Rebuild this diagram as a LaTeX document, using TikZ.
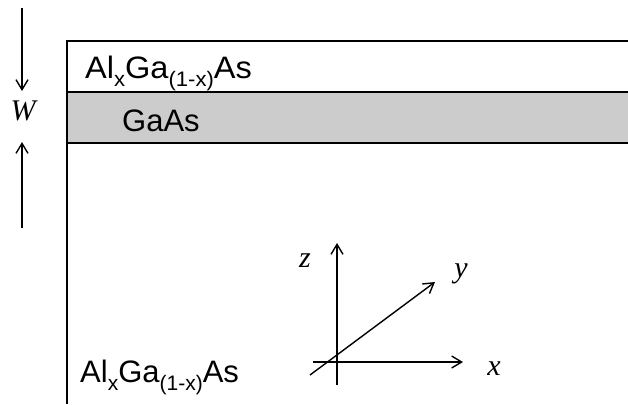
\documentclass[tikz,border=0pt]{standalone}
\usepackage{fontspec}
\setmainfont{Liberation Sans}
\newfontfamily\serifit{Liberation Serif}[ItalicFont=* Italic]
\usetikzlibrary{arrows.meta}
\definecolor{bandgray}{HTML}{CCCCCC}
\newcommand\lowsub[1]{\raisebox{-8pt}{\fontsize{21}{21}\selectfont #1}}
\tikzset{
  layer/.style={line width=1.5pt},
  axis/.style={line width=1.4pt,-{Straight Barb[length=10pt,width=12pt,line width=1.4pt]}},
  wlabel/.style={font=\fontsize{30}{32}\selectfont\serifit\itshape, anchor=base, inner sep=0pt},
  mat/.style={font=\fontsize{31}{33}\selectfont, anchor=base west, inner sep=0pt},
}
\begin{document}
\begin{tikzpicture}[x=1pt,y=-1pt]
\useasboundingbox (0,0) rectangle (628,404);
% layers
\fill[bandgray] (67,92) rectangle (628,143);
\draw[layer] (628,41) -- (67,41) -- (67,404);
\draw[layer] (67,92) -- (628,92);
\draw[layer] (67,143) -- (628,143);
% labels
\node[mat] (top) at (85,78) {\scalebox{1.05}[1]{Al\lowsub{x}Ga\lowsub{(1-x)}As}};
\node[mat] (gaas) at (122,131) {GaAs};
\node[mat] (bot) at (80,382) {Al\lowsub{x}Ga\lowsub{(1-x)}As};
% W
\coordinate (wa0) at (22,8);
\coordinate (wa1) at (22,91);
\coordinate (wb0) at (22,228);
\coordinate (wb1) at (22,142);
\draw[axis] (wa0) -- (wa1);
\draw[axis] (wb0) -- (wb1);
\node[wlabel] (W) at (23,120) {W};
% axes
\coordinate (zs) at (337,385);
\coordinate (ze) at (337,243);
\coordinate (xs) at (313,362);
\coordinate (xe) at (463,362);
\coordinate (ys) at (310,375);
\coordinate (ye) at (435,282);
\draw[axis] (zs) -- (ze);
\draw[axis] (xs) -- (xe);
\draw[axis] (ys) -- (ye);
\node[wlabel] (zl) at (305,267) {z};
\node[wlabel] (yl) at (461,277) {y};
\node[wlabel] (xl) at (494,375) {x};
\end{tikzpicture}
\end{document}
